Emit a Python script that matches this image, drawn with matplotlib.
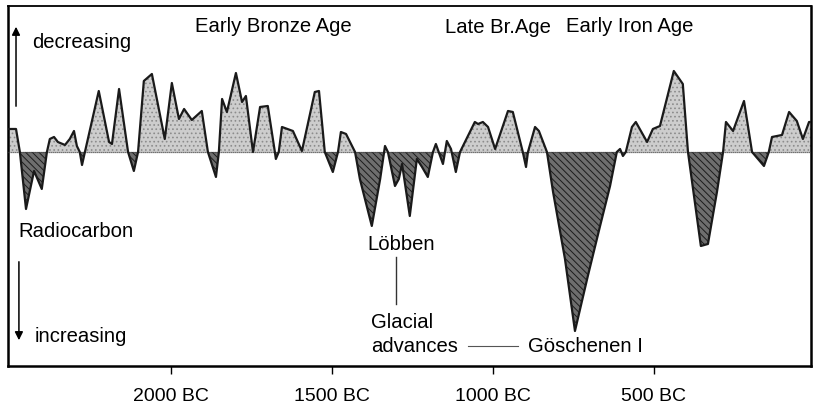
import matplotlib
matplotlib.use("Agg")
import matplotlib.pyplot as plt
import numpy as np

# radiocarbon anomaly curve, years BC and relative value (positive = decreasing 14C)
years_bc = [2506, 2481, 2469, 2450, 2425, 2401, 2385, 2376, 2363, 2351, 2329, 2314,
            2301, 2292, 2283, 2276, 2267, 2224, 2192, 2183, 2161, 2133, 2115, 2102,
            2084, 2059, 2019, 1997, 1975, 1959, 1935, 1904, 1885, 1860, 1851, 1841,
            1826, 1798, 1779, 1767, 1745, 1723, 1699, 1677, 1674, 1665, 1655, 1621,
            1593, 1553, 1540, 1522, 1497, 1481, 1472, 1456, 1428, 1413, 1376, 1350,
            1335, 1326, 1304, 1292, 1282, 1258, 1236, 1220, 1202, 1186, 1177, 1155,
            1143, 1130, 1115, 1102, 1056, 1046, 1031, 1015, 993, 953, 938, 907, 897,
            891, 869, 857, 832, 813, 776, 745, 705, 667, 636, 615, 605, 596, 587,
            568, 556, 521, 503, 481, 438, 410, 394, 354, 332, 304, 285, 276, 254,
            220, 195, 158, 143, 133, 102, 80, 56, 37, 18, 12]
anomaly = [23, 23, 0, -57, -19, -37, 0, 13, 15, 10, 7, 13,
           21, 6, 0, -13, 0, 61, 10, 8, 63, 0, -19, 0,
           71, 78, 13, 69, 33, 43, 32, 41, 0, -25, 0, 53,
           40, 79, 50, 56, 0, 45, 46, 0, -7, 0, 25, 21,
           1, 60, 61, 0, -20, 0, 20, 18, 0, -27, -74, -27,
           6, 0, -34, -27, -12, -64, -7, -15, -25, 0, 8, -12,
           11, 3, -20, 0, 30, 28, 30, 25, 3, 41, 40, 0, -15,
           0, 25, 21, 0, -40, -107, -179, -124, -74, -34, 0, 3, -4, 0,
           25, 30, 10, 23, 26, 81, 68, 0, -94, -92, -40, 0, 30, 21,
           51, 0, -14, 0, 15, 17, 40, 31, 13, 30, 30]

tick_years = [2000, 1500, 1000, 500]
tick_labels = ["2000 BC", "1500 BC", "1000 BC", "500 BC"]
period_labels = ["Early Bronze Age", "Late Br.Age", "Early Iron Age"]

plt.rcParams["font.family"] = ["Liberation Sans", "DejaVu Sans"]
plt.rcParams["hatch.linewidth"] = 0.7

x = -np.array(years_bc, dtype=float)
y = np.array(anomaly, dtype=float)

fig = plt.figure(figsize=(8.13, 4.06), dpi=100)
ax = fig.add_axes([0.0098, 0.0961, 0.9877, 0.8867])
ax.set_xlim(-2506, -12)
ax.set_ylim(-214, 146)

ax.fill_between(x, y, 0, where=y >= 0, interpolate=True,
                facecolor="#cdcdcd", edgecolor="#8c8c8c", hatch="....", linewidth=0)
ax.fill_between(x, y, 0, where=y <= 0, interpolate=True,
                facecolor="#6e6e6e", edgecolor="#1c1c1c", hatch="\\\\\\\\\\", linewidth=0)
ax.axhline(0, color="#444444", linewidth=0.9, linestyle=(0, (1, 0.6)), zorder=3)
ax.plot(x, y, color="#1a1a1a", linewidth=1.6, zorder=4)

# frame and ticks
for side in ["left", "right", "bottom"]:
    ax.spines[side].set_linewidth(1.8)
ax.spines["top"].set_linewidth(1.3)
ax.set_yticks([])
ax.set_xticks(-np.arange(2500, 0, 100), minor=True)
ax.set_xticks([-t for t in tick_years])
ax.set_xticklabels(tick_labels, fontsize=14)
ax.tick_params(axis="x", which="both", direction="out", length=6, width=1.0, pad=9)

fs = 14.6
ax.text(-1925, 126, period_labels[0], fontsize=fs, va="center")
ax.text(-1149, 125, period_labels[1], fontsize=fs, va="center")
ax.text(-773, 126, period_labels[2], fontsize=fs, va="center")

ax.text(-2432, 110, "decreasing", fontsize=fs, va="center")
ax.text(-2475, -79, "Radiocarbon", fontsize=fs, va="center")
ax.text(-2422, -184, "increasing", fontsize=fs, va="center")
ax.annotate("", xy=(-2481, 128), xytext=(-2481, 43),
            arrowprops=dict(arrowstyle="-|>", color="black", lw=1.1, mutation_scale=12))
ax.annotate("", xy=(-2472, -191), xytext=(-2472, -107),
            arrowprops=dict(arrowstyle="-|>", color="black", lw=1.1, mutation_scale=12))

ax.text(-1391, -92, "Löbben", fontsize=fs, va="center")
ax.plot([-1301, -1301], [-105, -152], color="#333333", linewidth=1.0)
ax.text(-1379, -170, "Glacial", fontsize=fs, va="center")
ax.text(-1379, -194, "advances", fontsize=fs, va="center")
ax.plot([-1077, -922], [-194, -194], color="#555555", linewidth=0.8)
ax.text(-891, -194, "Göschenen I", fontsize=fs, va="center")

fig.savefig("out.png", dpi=100)
